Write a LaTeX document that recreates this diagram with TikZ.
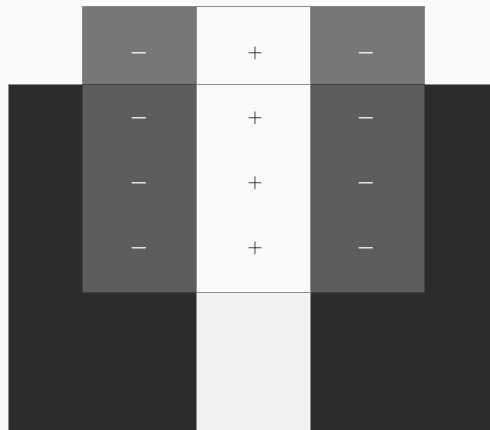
\documentclass[tikz,border=0pt]{standalone}
\definecolor{paper}{HTML}{FAFAFA}
\definecolor{substrate}{HTML}{2C2C2C}
\definecolor{wellgray}{HTML}{5D5D5D}
\definecolor{topgray}{HTML}{777777}
\definecolor{channel}{HTML}{FAFAFA}
\definecolor{drain}{HTML}{F2F2F2}
\definecolor{edgegray}{HTML}{8C8C8C}
\begin{document}
\begin{tikzpicture}[x=1pt, y=-1pt,
  region/.style={draw=edgegray, line width=0.6pt},
  negcharge/.style={text=white, font=\huge\boldmath, inner sep=0pt},
  poscharge/.style={text=black, font=\huge, inner sep=0pt}]
  \fill[paper] (0,0) rectangle (490,430);
  \useasboundingbox (0,0) rectangle (490,430);
  % dark block
  \fill[region, fill=substrate] (8,84) rectangle (492,432);
  % top band
  \fill[region, fill=topgray] (82,6) rectangle (196,84);
  \fill[region, fill=topgray] (310,6) rectangle (424,84);
  \fill[region, fill=channel] (196,6) rectangle (310,84);
  % middle band
  \fill[region, draw=wellgray!70!black, fill=wellgray] (82,84) rectangle (196,292);
  \fill[region, draw=wellgray!70!black, fill=wellgray] (310,84) rectangle (424,292);
  \fill[region, fill=channel] (196,84) rectangle (310,292);
  % bottom strip
  \fill[region, fill=drain] (196,292) rectangle (310,432);
  % charges
  \foreach \y [count=\i] in {53,118,183,248} {
    \node[negcharge] (left\i) at (139,\y) {$-$};
    \node[poscharge] (mid\i) at (255,\y) {$+$};
    \node[negcharge] (right\i) at (366,\y) {$-$};
  }
\end{tikzpicture}
\end{document}
